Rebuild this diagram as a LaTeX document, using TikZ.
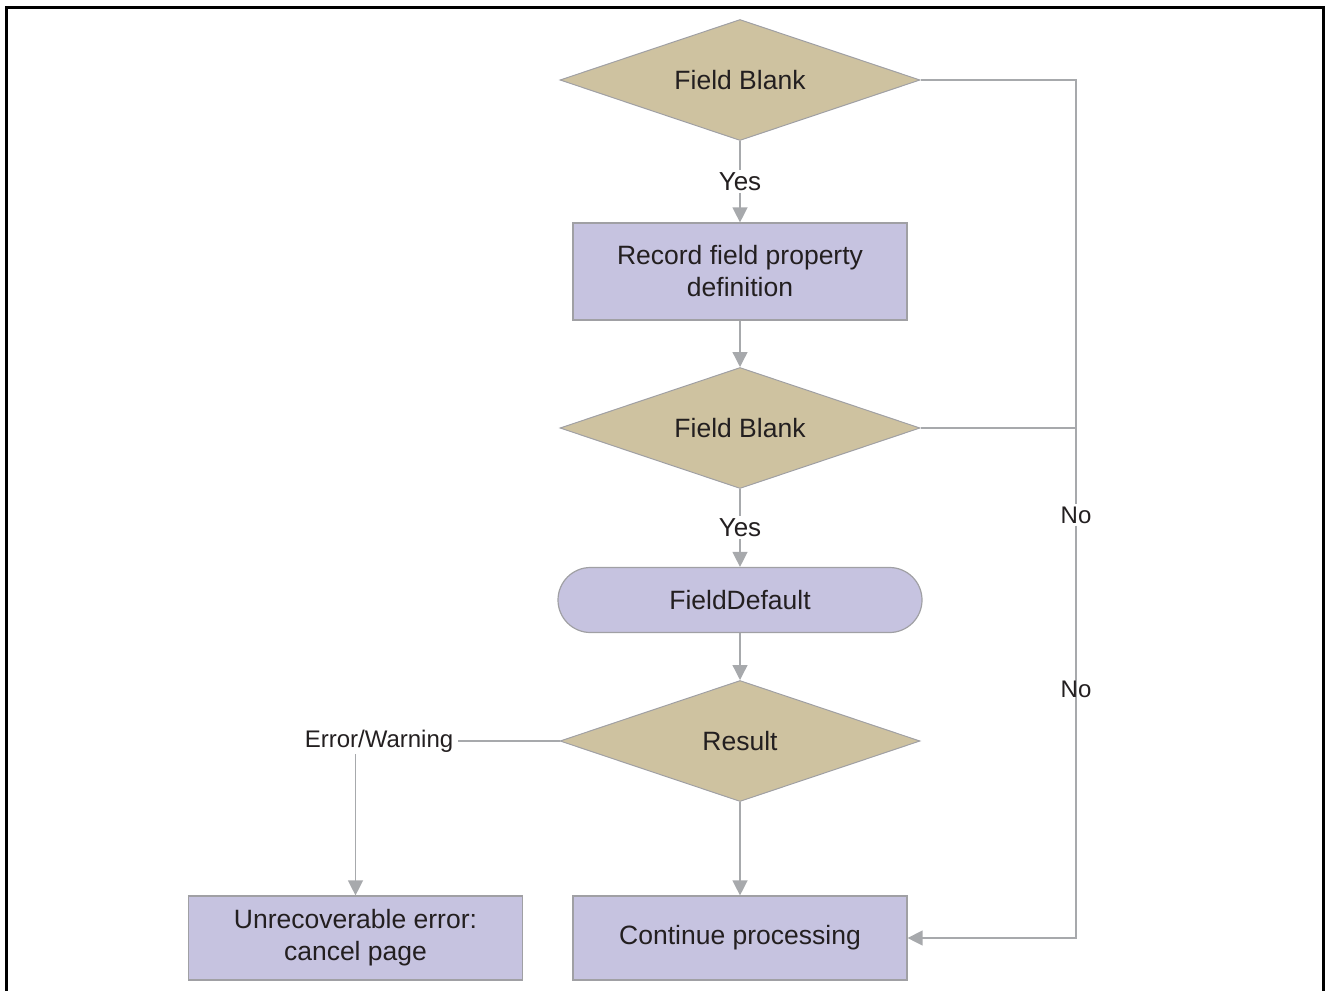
\documentclass[tikz,border=0pt]{standalone}
\usepackage{fontspec}
\setmainfont{Liberation Sans}
\usetikzlibrary{shapes.geometric,arrows.meta}
\definecolor{tanfill}{RGB}{206,194,160}
\definecolor{lavfill}{RGB}{198,195,224}
\definecolor{edgegray}{RGB}{160,160,164}
\definecolor{wiregray}{RGB}{167,169,172}
\definecolor{ink}{RGB}{35,31,32}
\tikzset{
  decision/.style={diamond, aspect=2.98, inner sep=0pt, minimum width=360pt, minimum height=121pt,
    fill=tanfill, draw=edgegray, line width=1pt, text=ink, font=\fontsize{26.5}{32}\selectfont},
  process/.style={rectangle, minimum width=334pt, inner sep=0pt, fill=lavfill, draw=edgegray,
    line width=1.2pt, text=ink, align=center, font=\fontsize{26.5}{32}\selectfont},
  terminal/.style={rectangle, rounded corners=32.5pt, minimum width=364pt, minimum height=65pt,
    fill=lavfill, draw=edgegray, line width=1.2pt, text=ink, font=\fontsize{26.5}{32}\selectfont},
  wire/.style={draw=wiregray, line width=1.3pt},
  flow/.style={wire, -{Triangle[width=15pt,length=15pt]}},
  biglabel/.style={text=ink, inner sep=2pt, font=\fontsize{26}{30}\selectfont},
  smalllabel/.style={text=ink, inner sep=2pt, font=\fontsize{24}{28}\selectfont},
}
\begin{document}
\begin{tikzpicture}[x=1pt,y=-1pt]
  \useasboundingbox (0,0) rectangle (1329,990);
  % page frame, open at the bottom
  \draw[line width=3pt, line cap=butt] (6.5,992) -- (6.5,8) -- (1323,8) -- (1323,992);

  % nodes
  \node[decision] (d1) at (740,80) {Field Blank};
  \node[process, minimum height=97pt] (rec) at (740,271.5) {Record field property\\definition};
  \node[decision] (d2) at (740,428) {Field Blank};
  \node[terminal] (fd) at (740,600) {FieldDefault};
  \node[decision] (d3) at (740,741) {Result};
  \node[process, minimum height=84pt] (unrec) at (355.5,938) {Unrecoverable error:\\cancel page};
  \node[process, minimum height=84pt] (cont) at (740,938) {Continue processing};

  % labels
  \node[biglabel, fill=white] (yes1) at (740,181.5) {Yes};
  \node[biglabel, fill=white] (yes2) at (740,527.5) {Yes};
  \node[smalllabel, inner xsep=5pt] (ew) at (379,741) {Error/Warning};
  \coordinate (rj) at (1076,938);
  \node[smalllabel, fill=white] (no1) at (1076,515) {No};

  % main column
  \draw[wire] (d1.south) -- (yes1.north);
  \draw[flow] (yes1.south) -- (rec.north);
  \draw[flow] (rec.south) -- (d2.north);
  \draw[wire] (d2.south) -- (yes2.north);
  \draw[flow] (yes2.south) -- (fd.north);
  \draw[flow] (fd.south) -- (d3.north);
  \draw[flow] (d3.south) -- (cont.north);

  % error branch
  \draw[wire] (d3.west) -- (d3.west -| ew.east);
  \draw[flow] (ew.south -| unrec.north) -- (unrec.north);

  % "No" branches on the right
  \draw[wire] (d1.east) -| (no1.north);
  \draw[flow] (no1.south) -- (rj) -- (cont.east);
  \draw[wire] (d2.east) -- (d2.east -| rj);
  \node[smalllabel] (no2) at (1076,689) {No};
\end{tikzpicture}
\end{document}
